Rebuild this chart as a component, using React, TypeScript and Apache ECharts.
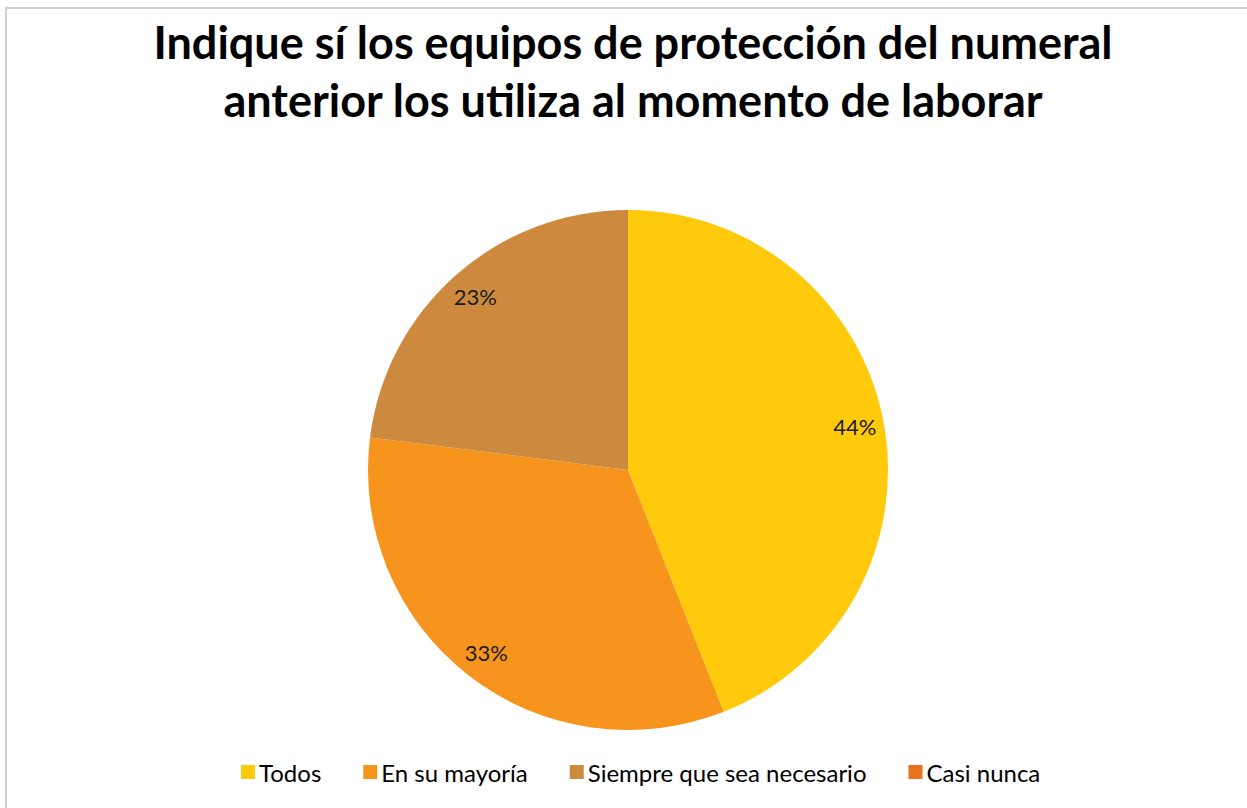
import React, { useEffect, useRef } from "react";
import * as echarts from "echarts";

const titleLines = [
  "Indique sí los equipos de protección del numeral",
  "anterior los utiliza al momento de laborar",
];
const categories = ["Todos", "En su mayoría", "Siempre que sea necesario", "Casi nunca"];
const values = [44, 33, 23, 0];
const colors = ["#FFC90C", "#F7941E", "#CD8A3E", "#E8731C"];

export default function App() {
  const ref = useRef<HTMLDivElement>(null);
  useEffect(() => {
    if (!ref.current) return;
    const chart = echarts.init(ref.current, null, { renderer: "svg" });
    const font = "Lato, 'Noto Sans', sans-serif";
    const data = categories.map((name, i) => ({
      name,
      value: values[i],
      itemStyle: { color: colors[i] },
    }));
    chart.setOption({
      animation: false,
      backgroundColor: "#ffffff",
      graphic: [
        {
          type: "rect",
          shape: { x: 6, y: 8, width: 1300, height: 900 },
          style: { fill: "none", stroke: "#cfcfcf", lineWidth: 2 },
          silent: true,
        },
      ],
      title: {
        text: titleLines.join("\n"),
        left: 628,
        textAlign: "center",
        top: 8,
        textStyle: {
          fontFamily: font,
          fontWeight: "bold",
          fontSize: 45,
          lineHeight: 58,
          color: "#000",
        },
      },
      legend: {
        data: categories,
        bottom: 19,
        left: 236,
        itemWidth: 14,
        itemHeight: 14,
        itemGap: 42,
        icon: "rect",
        textStyle: { fontFamily: font, fontSize: 24, color: "#000", padding: [0, 0, 0, -1] },
      },
      series: [
        {
          type: "pie",
          center: [628, 470],
          radius: [0, 260],
          startAngle: 90,
          clockwise: true,
          label: { show: false },
          labelLine: { show: false },
          itemStyle: { borderWidth: 0 },
          data,
        },
        {
          type: "pie",
          center: [628, 470],
          radius: [196, 260],
          startAngle: 90,
          clockwise: true,
          silent: true,
          legendHoverLink: false,
          itemStyle: { color: "rgba(0,0,0,0)", borderWidth: 0 },
          labelLine: { show: false },
          label: {
            show: true,
            position: "inside",
            fontFamily: font,
            fontSize: 22,
            color: "#1a1a1a",
            formatter: (p: any) => (p.value > 0 ? Math.round(p.percent) + "%" : ""),
          },
          data: categories.map((name, i) => ({
            name,
            value: values[i],
            itemStyle: { color: "rgba(0,0,0,0)" },
          })),
        },
      ],
    });
    return () => chart.dispose();
  }, []);
  return (
    <div
      ref={ref}
      style={{ position: "fixed", left: 0, top: 0, width: 1247, height: 808 }}
    />
  );
}
